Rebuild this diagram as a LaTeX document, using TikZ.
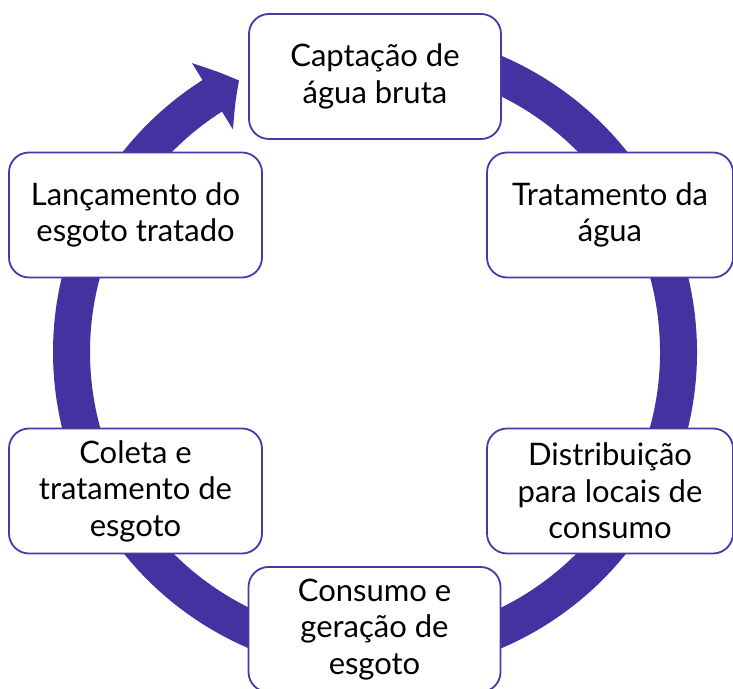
\documentclass[tikz,border=0pt]{standalone}
\usepackage{fontspec}
\setmainfont{Lato}
\usetikzlibrary{arrows.meta,calc,bending}
\definecolor{ring}{RGB}{67,51,160}
\definecolor{boxline}{RGB}{72,56,168}
\tikzset{
  stagebox/.style={draw=boxline, line width=1.8pt, fill=white, rounded corners=20pt,
    minimum width=252pt, minimum height=125pt, align=center, inner sep=0pt,
    font=\fontsize{31}{36.5}\selectfont},
  cycle/.style={draw=ring, line width=37pt,
    -{Triangle[width=76pt,length=31pt,bend]}}
}
\begin{document}
\begin{tikzpicture}[x=1pt,y=1pt]
\useasboundingbox (0,0) rectangle (733,688);
\clip (0,0) rectangle (733,688);
\coordinate (c) at (375,336);
\coordinate (start) at ($(c)+(95:303.5)$);
\draw[cycle] (start) arc[start angle=95, end angle=-243.4, radius=303.5];
\node[stagebox] (cap) at (375,611.5) {Captação de\\água bruta};
\node[stagebox, minimum width=246pt] (trat) at (610,473) {Tratamento da\\água};
\node[stagebox, minimum width=246pt] (dist) at (610,197) {Distribuição\\para locais de\\consumo};
\node[stagebox] (cons) at (374.5,58.5) {Consumo e\\geração de\\esgoto};
\node[stagebox, minimum width=253pt] (col) at (135.5,197) {Coleta e\\tratamento de\\esgoto};
\node[stagebox, minimum width=253pt] (lanc) at (135.5,473) {Lançamento do\\esgoto tratado};
\end{tikzpicture}
\end{document}
